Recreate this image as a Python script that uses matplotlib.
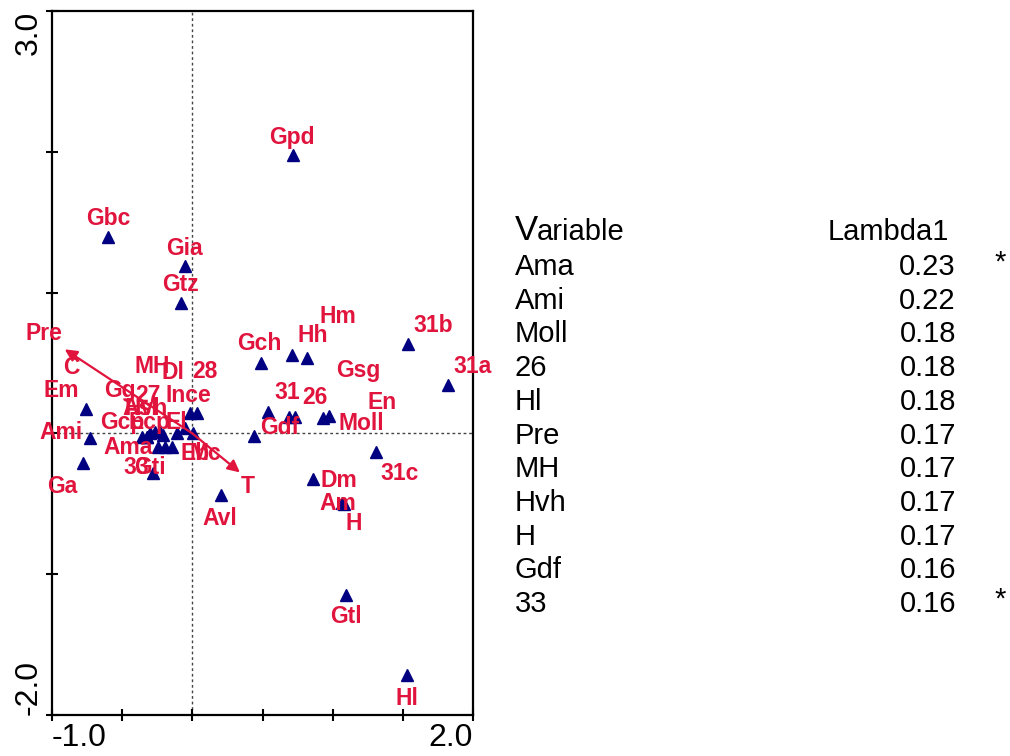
import matplotlib
matplotlib.use('Agg')
import matplotlib.pyplot as plt

plt.rcParams['font.family'] = ['Liberation Sans', 'DejaVu Sans']

# species scores (triangles) and label offsets in pixels
sp_names = ['Gpd', 'Gbc', 'Gia', 'Gtz', '31b', '31a', 'Hm', 'Hh', 'Gch', '31',
            '26', 'Gsg', 'En', 'Moll', 'Gdf', '31c', 'Dm', 'Am', 'H', 'Gtl',
            'Hl', 'Avl', 'Em', 'Ami', 'Ga', 'Dl', '28', 'Ince', 'Mc', 'Eb',
            'El', 'Gcp', 'Ecp', 'Ama', '33', 'Hvh', 'Gti', 'MH', 'Gg', '27', 'Asl']
sp_x = [0.716, -0.602, -0.053, -0.082, 1.536, 1.821, 0.709, 0.816, 0.488, 0.538,
        0.688, 0.731, 0.973, 0.930, 0.438, 1.308, 0.859, 1.066, 1.080, 1.094,
        1.529, 0.203, -0.759, -0.731, -0.780, -0.018, 0.032, -0.053, 0.004, -0.110,
        -0.210, -0.324, -0.360, -0.246, -0.196, -0.146, -0.282, -0.232, -0.324, -0.267, -0.300]
sp_y = [1.974, 1.392, 1.186, 0.923, 0.632, 0.341, 0.554, 0.533, 0.497, 0.149,
        0.114, 0.114, 0.121, 0.107, -0.021, -0.135, -0.327, -0.497, -0.504, -1.151,
        -1.719, -0.440, 0.170, -0.036, -0.213, 0.142, 0.142, 0.036, 0.000, 0.000,
        -0.014, -0.028, -0.028, -0.099, -0.099, -0.099, -0.284, 0.007, -0.028, 0.007, 0.000]
lab_dx = [-1, 0, 0, 0, 25, 25, 46, 6, -2, 19,
          26, 63, 53, 38, 26, 24, 26, -4, 10, 0,
          0, -1, -25, -29, -21, -17, 8, 3, 12, 18,
          13, -25, 8, -30, -29, -26, -3, -8, -27, -7, -10]
lab_dy = [-18, -19, -18, -19, -19, -19, -39, -23, -20, -20,
          -20, -47, -14, 5, -9, 21, 1, 0, 19, 21,
          23, 23, -19, -6, 23, -41, -42, -33, 20, 20,
          -13, -15, -15, 0, 20, -39, -6, -66, -47, -37, -25]

# environmental arrows
env_names = ['Pre', 'T']
env_x = [-0.909, 0.339]
env_y = [0.597, -0.277]
env_dx = [-21, 8]
env_dy = [-16, 14]

# nominal variable centroid (label only)
cen_names = ['C']
cen_x = [-0.859]
cen_y = [0.469]

# table on the right
tab_vars = ['Ama', 'Ami', 'Moll', '26', 'Hl', 'Pre', 'MH', 'Hvh', 'H', 'Gdf', '33']
tab_lambda = [0.23, 0.22, 0.18, 0.18, 0.18, 0.17, 0.17, 0.17, 0.17, 0.16, 0.16]
tab_sig = ['*', '', '', '', '', '', '', '', '', '', '*']

RED = '#E0143C'
NAVY = '#000080'
W, H = 1010, 756
LFS = 16.5

fig = plt.figure(figsize=(W / 100, H / 100), dpi=100)
ax = fig.add_axes([52 / W, 41 / H, 421 / W, 704 / H])
ax.set_xlim(-1, 2)
ax.set_ylim(-2, 3)

ax.axhline(0, color='#444444', lw=1, ls=(0, (2, 2)), zorder=1)
ax.axvline(0, color='#444444', lw=1, ls=(0, (2, 2)), zorder=1)

ax.plot(sp_x, sp_y, ls='none', marker='^', ms=9, color=NAVY, zorder=3)
for n, x, y, dx, dy in zip(sp_names, sp_x, sp_y, lab_dx, lab_dy):
    ax.annotate(n, (x, y), xytext=(dx, -dy), textcoords='offset pixels',
                ha='center', va='center', color=RED, fontsize=LFS,
                fontweight='bold', zorder=4)

for n, x, y, dx, dy in zip(env_names, env_x, env_y, env_dx, env_dy):
    ax.annotate('', xy=(x, y), xytext=(0, 0),
                arrowprops=dict(arrowstyle='-|>', color=RED, lw=1.6,
                                mutation_scale=18, shrinkA=0, shrinkB=0),
                zorder=5)
    ax.annotate(n, (x, y), xytext=(dx, -dy), textcoords='offset pixels',
                ha='center', va='center', color=RED, fontsize=LFS,
                fontweight='bold', zorder=4)

for n, x, y in zip(cen_names, cen_x, cen_y):
    ax.text(x, y, n, ha='center', va='center', color=RED, fontsize=LFS,
            fontweight='bold', zorder=4)

for s in ax.spines.values():
    s.set_linewidth(1.6)

xt = [-1.0, -0.5, 0.0, 0.5, 1.0, 1.5, 2.0]
ax.set_xticks(xt)
ax.set_xticklabels(['-1.0', '', '', '', '', '', '2.0'], fontsize=23)
ax.set_yticks([-2, -1, 0, 1, 2, 3])
ax.set_yticklabels(['-2.0', '', '', '', '', '3.0'], fontsize=23, rotation=90)
ax.tick_params(direction='inout', length=8, width=1.5, pad=2)
xl = ax.get_xticklabels()
xl[0].set_ha('left')
xl[-1].set_ha('right')
yl = ax.get_yticklabels()
yl[0].set_va('bottom')
yl[-1].set_va('top')

# table text (figure pixel coordinates, y from top)
def fy(py):
    return 1 - py / H

fig.text(515 / W, fy(240), 'V', fontsize=25, va='baseline', ha='left')
fig.text(537 / W, fy(240), 'ariable', fontsize=21, va='baseline', ha='left')
fig.text(888 / W, fy(240), 'Lambda1', fontsize=21, va='baseline', ha='center')
for i, (v, lam, sig) in enumerate(zip(tab_vars, tab_lambda, tab_sig)):
    yc = 267 + i * 33.7
    fig.text(515 / W, fy(yc), v, fontsize=21, va='center', ha='left')
    fig.text(956 / W, fy(yc), f'{lam:.2f}', fontsize=21, va='center', ha='right')
    if sig:
        fig.text(1000 / W, fy(yc - 4), sig, fontsize=21, va='center', ha='center')

fig.savefig('out.png', dpi=100)
